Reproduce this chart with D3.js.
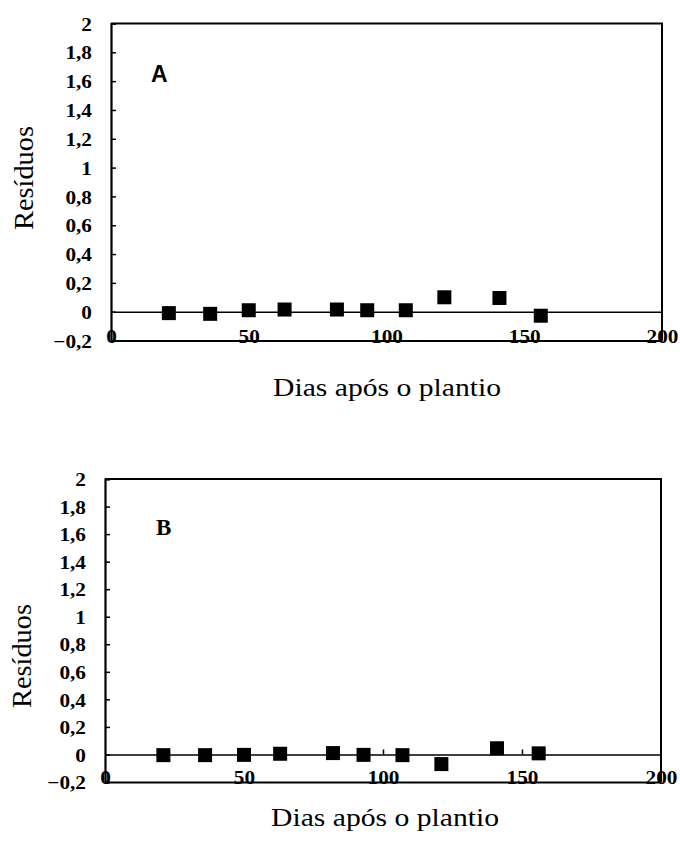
<!DOCTYPE html>
<html>
<head>
<meta charset="utf-8">
<script src="https://cdn.jsdelivr.net/npm/d3@7"></script>
<style>
  body { margin: 0; background: #fff; }
  svg { display: block; }
</style>
</head>
<body>
<div id="container"></div>
<script>
const WIDTH = 680;
const HEIGHT = 843;

// dias após o plantio (same sampling days for both panels)
const days = [21, 36, 50, 63, 82, 93, 107, 121, 141, 156];
const residA = [-0.01, -0.015, 0.01, 0.015, 0.015, 0.01, 0.01, 0.1, 0.095, -0.028];
const residB = [-0.005, -0.005, -0.003, 0.005, 0.01, -0.003, -0.005, -0.07, 0.045, 0.008];

const xTicks = [0, 50, 100, 150, 200];
const yTicks = [-0.2, 0, 0.2, 0.4, 0.6, 0.8, 1, 1.2, 1.4, 1.6, 1.8, 2];

const fmt = d3.formatLocale({ decimal: ',', thousands: '.', grouping: [3], currency: ['', ''] }).format('~g');

const SERIF = '"Liberation Serif", "Times New Roman", serif';
const SANS = '"Liberation Sans", Arial, sans-serif';

const panels = [
  { id: 'A', values: residA, left: 111, right: 662, top: 23.5, bottom: 340.5,
    letter: { x: 151, y: 82, font: SANS },
    yTitle: { x: 33, y: 178 }, xTitle: { x: 387, y: 396 }, zeroTicks: false },
  { id: 'B', values: residB, left: 105, right: 661, top: 479, bottom: 782,
    letter: { x: 156, y: 535, font: SERIF },
    yTitle: { x: 31, y: 656 }, xTitle: { x: 385, y: 826 }, zeroTicks: true }
];

const svg = d3.select('#container')
              .append('svg')
                .attr('width', WIDTH)
                .attr('height', HEIGHT);

const MARK = 14;
const STRETCH = 1.12;

const styleText = (sel, size, weight, family) =>
    sel.style('font-family', family)
       .style('font-size', size + 'px')
       .style('font-weight', weight)
       .attr('fill', '#000');

panels.forEach(p => {
    const x = d3.scaleLinear().domain([0, 200]).range([p.left, p.right]);
    const y = d3.scaleLinear().domain([-0.2, 2]).range([p.bottom, p.top]);
    const g = svg.append('g').attr('id', 'panel-' + p.id);

    // plot frame: top and right border
    g.append('path')
       .attr('d', `M${p.left},${p.top}H${p.right}V${p.bottom}`)
       .attr('fill', 'none')
       .attr('stroke', '#000')
       .attr('stroke-width', 2);

    // y axis with inward ticks
    const yAxis = g.append('g')
                   .attr('transform', `translate(${p.left},0)`)
                   .call(d3.axisRight(y).tickValues(yTicks).tickSize(5).tickFormat(''));
    yAxis.select('.domain').attr('stroke-width', 2.2);
    yAxis.selectAll('.tick line').attr('stroke-width', 1.5);

    yAxis.selectAll('.tick')
         .append('text')
           .attr('transform', `translate(-19,0) scale(${STRETCH},1)`)
           .attr('dy', '0.35em')
           .attr('text-anchor', 'end')
           .call(styleText, 19, 'bold', SERIF)
           .text(d => fmt(d));

    // bottom axis at -0.2
    const xAxis = g.append('g')
                   .attr('transform', `translate(0,${p.bottom})`)
                   .call(d3.axisBottom(x).tickValues(xTicks).tickSize(0).tickFormat(''));
    xAxis.select('.domain').attr('stroke-width', 2);
    xAxis.selectAll('.tick')
         .append('text')
           .attr('transform', `translate(0,2) scale(${STRETCH},1)`)
           .attr('text-anchor', 'middle')
           .call(styleText, 19, 'bold', SERIF)
           .text(d => d);

    // zero line
    const zero = g.append('g')
                  .attr('transform', `translate(0,${y(0)})`)
                  .call(d3.axisTop(x)
                          .tickValues(p.zeroTicks ? [50, 100, 150] : [])
                          .tickSize(p.zeroTicks ? 5 : 0)
                          .tickSizeOuter(0)
                          .tickFormat(''));
    zero.select('.domain').attr('stroke-width', 1.6);
    zero.selectAll('.tick line').attr('stroke-width', 1.5);

    // residual markers
    g.selectAll('rect.mark')
      .data(days.map((d, i) => ({ day: d, res: p.values[i] })))
      .enter()
      .append('rect')
        .attr('class', 'mark')
        .attr('x', d => x(d.day) - MARK / 2)
        .attr('y', d => y(d.res) - MARK / 2)
        .attr('width', MARK)
        .attr('height', MARK)
        .attr('fill', '#000');

    // panel letter
    g.append('text')
       .attr('x', p.letter.x)
       .attr('y', p.letter.y)
       .call(styleText, 23, 'bold', p.letter.font)
       .text(p.id);

    // axis titles
    g.append('text')
       .attr('transform', `translate(${p.yTitle.x},${p.yTitle.y}) rotate(-90)`)
       .attr('text-anchor', 'middle')
       .attr('textLength', 104)
       .attr('lengthAdjust', 'spacingAndGlyphs')
       .call(styleText, 27, 'normal', SERIF)
       .text('Resíduos');

    g.append('text')
       .attr('x', p.xTitle.x)
       .attr('y', p.xTitle.y)
       .attr('text-anchor', 'middle')
       .attr('textLength', 228)
       .attr('lengthAdjust', 'spacingAndGlyphs')
       .call(styleText, 26, 'normal', SERIF)
       .text('Dias após o plantio');
});
</script>
</body>
</html>
